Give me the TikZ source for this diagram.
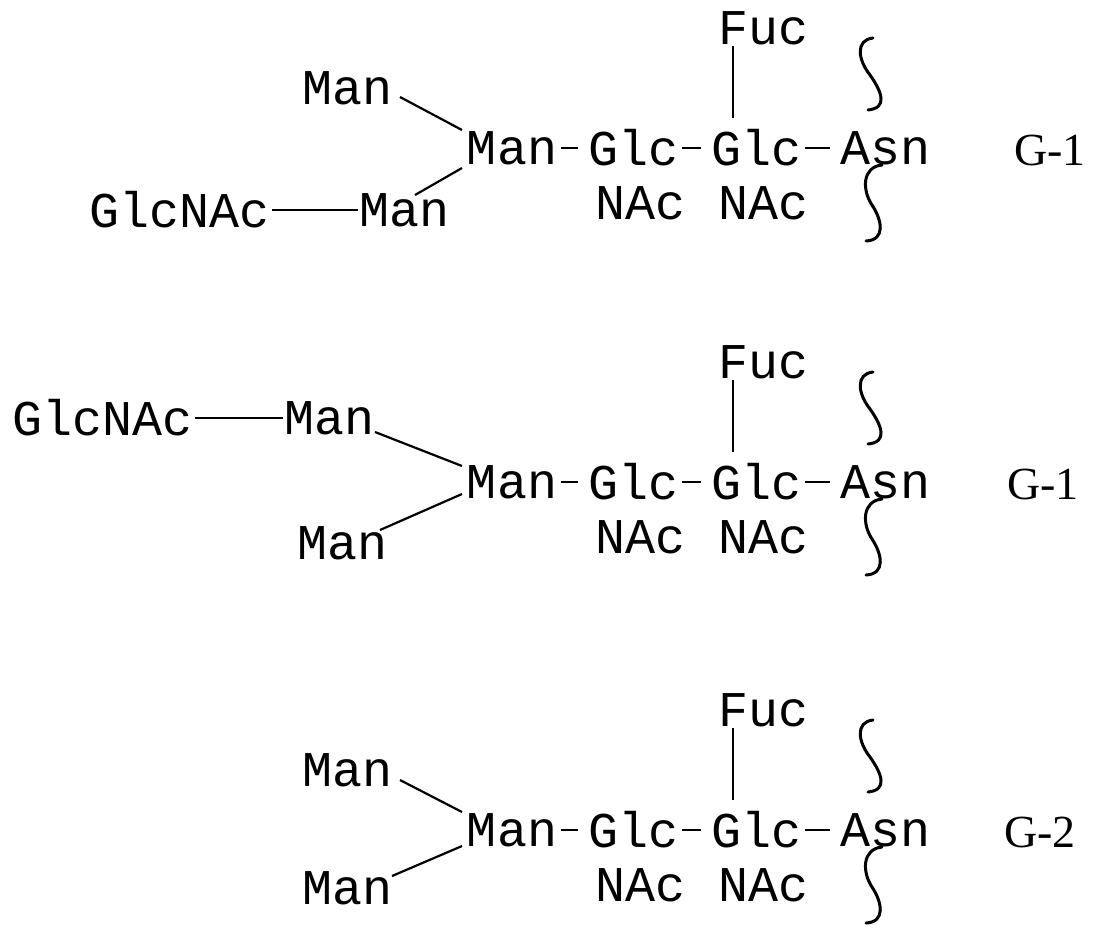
\documentclass[tikz,border=0pt]{standalone}
\usepackage{fontspec}
\newfontfamily\monof{Liberation Mono}
\newfontfamily\serf{Liberation Serif}
\begin{document}
\begin{tikzpicture}[x=1pt,y=-1pt,
  s/.style={font=\monof\fontsize{50}{50}\selectfont,inner sep=2pt,anchor=center},
  g/.style={font=\serf\fontsize{46}{46}\selectfont,anchor=center},
  ln/.style={line width=2.2pt},
  hy/.style={line width=2.6pt,shorten <=2pt,shorten >=8pt},
  wv/.style={line width=3pt,line cap=round}]
\useasboundingbox (0,0) rectangle (1102,938);
\foreach \oy/\lab/\gx/\kind in {0/G-1/1050/a,334/G-1/1043/b,682/G-2/1040/c}{
  \begin{scope}[yshift=-\oy]
  \node[s] (m\kind) at (512,148) {Man};
  \node[s] (ga\kind) at (633,148) {Glc};
  \node[s] (gb\kind) at (756,148) {Glc};
  \node[s] (as\kind) at (885,148) {Asn};
  \node[s] (na\kind) at (640,203) {NAc};
  \node[s] (nb\kind) at (763,203) {NAc};
  \node[s] (f\kind) at (763,28) {Fuc};
  \node[g] (l\kind) at (\gx,150) {\lab};
  \draw[hy] (m\kind.east) -- (ga\kind.west);
  \draw[hy] (ga\kind.east) -- (gb\kind.west);
  \draw[hy] (gb\kind.east) -- (as\kind.west);
  \draw[ln] (733,46) -- (733,118);
  \draw[wv] (873,38) .. controls (855,40) and (858,60) .. (870,75) .. controls (882,92) and (888,108) .. (868,110);
  \draw[wv] (882,165) .. controls (862,167) and (862,190) .. (872,205) .. controls (882,220) and (886,240) .. (866,241);
  \end{scope}
}
% group 1 branches
\node[s] (u1) at (348,88) {Man};
\node[s] (d1) at (405,210) {Man};
\node[s] (gn1) at (180,210) {GlcNAc};
\draw[ln] (400,97) -- (462,130);
\draw[ln] (415,195) -- (462,168);
\draw[ln] (gn1.east) -- (d1.west);
% group 2
\node[s] (gn2) at (103,418) {GlcNAc};
\node[s] (u2) at (330,418) {Man};
\node[s] (d2) at (343,543) {Man};
\draw[ln] (gn2.east) -- (u2.west);
\draw[ln] (375,432) -- (462,466);
\draw[ln] (380,530) -- (462,494);
% group 3
\node[s] (u3) at (348,770) {Man};
\node[s] (d3) at (348,888) {Man};
\draw[ln] (400,780) -- (462,812);
\draw[ln] (392,876) -- (462,846);
\end{tikzpicture}
\end{document}
